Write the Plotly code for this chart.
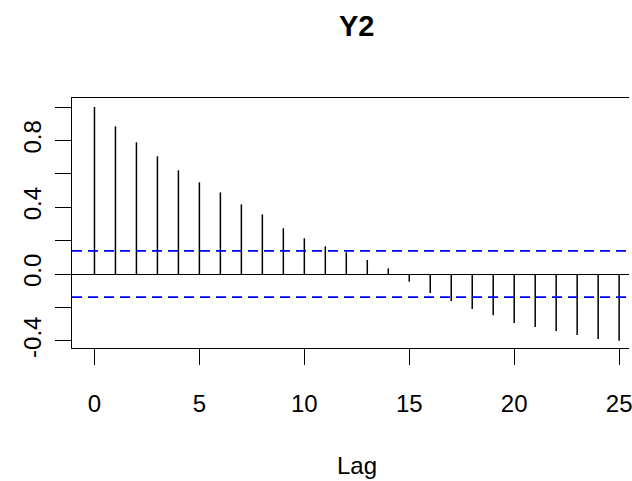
import plotly.graph_objects as go

# Data
lags = list(range(0, 26))
acf_values = [1.000, 0.884, 0.789, 0.705, 0.621, 0.549, 0.489, 0.417, 0.357, 0.274,
              0.214, 0.166, 0.130, 0.084, 0.034, -0.046, -0.114, -0.162, -0.210, -0.247,
              -0.293, -0.317, -0.341, -0.365, -0.389, -0.399]
conf_limit = 0.1386
x_ticks = [0, 5, 10, 15, 20, 25]
y_ticks = [-0.4, -0.2, 0.0, 0.2, 0.4, 0.6, 0.8, 1.0]
y_tick_text = ["-0.4", "", "0.0", "", "0.4", "", "0.8", ""]
title_text = "Y2"
xlabel_text = "Lag"

FONT = "Liberation Sans, Arial, sans-serif"

# spikes
xs, ys = [], []
for lag, v in zip(lags, acf_values):
    xs += [lag, lag, None]
    ys += [0, v, None]

fig = go.Figure()
fig.add_trace(go.Scatter(x=xs, y=ys, mode="lines",
                         line=dict(color="black", width=1.5),
                         hoverinfo="skip", showlegend=False))

xr = [-1.07, 25.47]
for c in (conf_limit, -conf_limit):
    fig.add_trace(go.Scatter(x=xr, y=[c, c], mode="lines",
                             line=dict(color="#0000FF", width=1.6, dash="10px,6px"),
                             hoverinfo="skip", showlegend=False))

fig.update_layout(
    width=632, height=481,
    margin=dict(l=72, r=0, t=98, b=133, pad=0),
    paper_bgcolor="white", plot_bgcolor="white",
    font=dict(family=FONT, size=24, color="black"),
    showlegend=False,
    xaxis=dict(range=xr, tickvals=x_ticks, ticks="outside", ticklen=16, tickwidth=1.4,
               tickcolor="black", showline=True, linecolor="black", linewidth=1.4,
               mirror=True, showgrid=False, zeroline=False, ticklabeloverflow="allow",
               tickfont=dict(family=FONT, size=24), ticklabelstandoff=18),
    yaxis=dict(range=[-0.443, 1.054], tickvals=y_ticks, ticktext=y_tick_text,
               ticks="outside", ticklen=16, tickwidth=1.4, tickcolor="black",
               showline=True, linecolor="black", linewidth=1.4, mirror=False,
               showgrid=False, zeroline=True, zerolinecolor="black", zerolinewidth=1.4,
               tickangle=-90, tickfont=dict(family=FONT, size=24), ticklabelstandoff=4),
)

fig.add_annotation(text="<b>" + title_text + "</b>", xref="paper", yref="paper",
                   x=(358.5 - 72) / 560, y=(348.3 - 26) / 250, xanchor="center",
                   yanchor="middle", showarrow=False, font=dict(family=FONT, size=29))
fig.add_annotation(text=xlabel_text, xref="paper", yref="paper",
                   x=(359 - 72) / 560, y=(348.3 - 466) / 250, xanchor="center",
                   yanchor="middle", showarrow=False, font=dict(family=FONT, size=24))

fig.write_html("out.html")
